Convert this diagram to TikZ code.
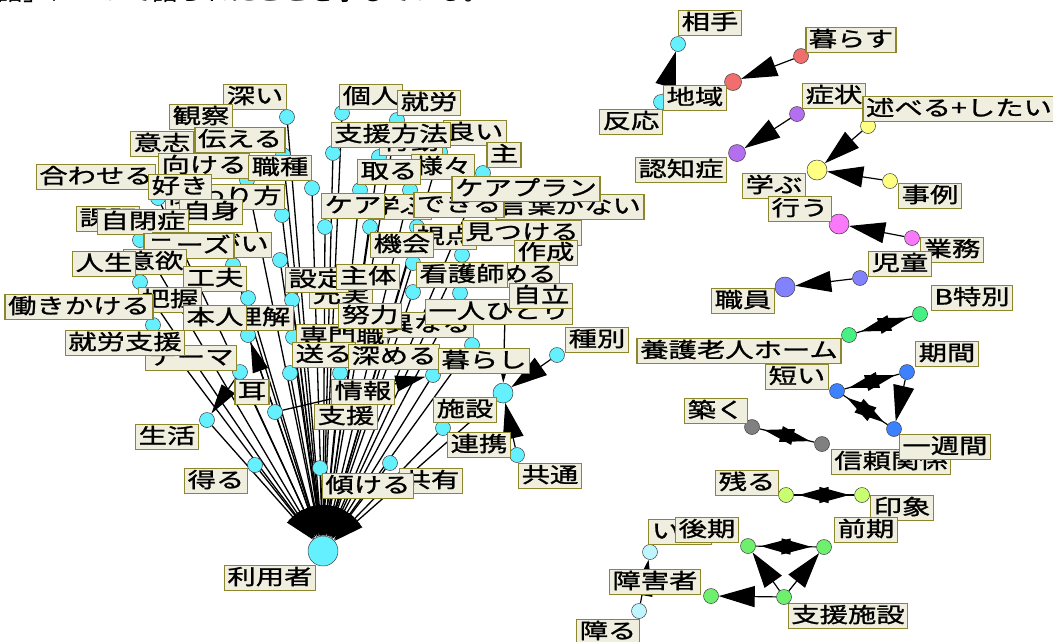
\documentclass[tikz,border=0pt]{standalone}
\usepackage{fontspec}
\newfontfamily\jp[FakeStretch=1.35,FakeBold=1.2]{Noto Sans CJK JP}
\newfontfamily\jpbody{Noto Sans CJK JP}
\usetikzlibrary{arrows.meta,decorations.markings}
\pgfdeclarelayer{edges}
\pgfsetlayers{edges,main}

\definecolor{cCyan}{RGB}{100,240,255}
\definecolor{cSalmon}{RGB}{240,110,110}
\definecolor{cPurple}{RGB}{180,110,240}
\definecolor{cYellow}{RGB}{255,255,130}
\definecolor{cPink}{RGB}{250,120,250}
\definecolor{cViolet}{RGB}{130,130,255}
\definecolor{cGreen}{RGB}{70,240,130}
\definecolor{cBlue}{RGB}{60,130,255}
\definecolor{cGray}{RGB}{128,128,128}
\definecolor{cLime}{RGB}{200,255,110}
\definecolor{cLeaf}{RGB}{110,240,110}
\definecolor{cPale}{RGB}{190,245,255}
\definecolor{lblFill}{RGB}{240,238,222}
\definecolor{lblLine}{RGB}{140,135,45}

\tikzset{
  lbl/.style={draw=lblLine, fill=lblFill, line width=1.5pt, inner xsep=3pt, inner ysep=2pt,
    font=\jp\fontsize{21}{21}\selectfont, text height=17pt, text depth=4pt},
  dot/.style={circle, draw=black!75, line width=0.5pt, inner sep=0pt, minimum size=15pt},
  bigdot/.style={dot, minimum size=20pt},
  carr/.style={line width=1.3pt, -{Triangle[length=30pt,width=16pt]}},
  arr/.style={line width=1.2pt, -{Triangle[length=36pt,width=21pt]}},
  spin/.style={line width=1.2pt, postaction={decorate},
    decoration={markings,
      mark=at position 0.92 with {\arrow{Triangle[length=30pt,width=16pt]}},
      mark=at position 0.08 with {\arrowreversed{Triangle[length=30pt,width=16pt]}}}}
}

\begin{document}
\begin{tikzpicture}[x=1pt,y=-1pt]
\useasboundingbox (0,0) rectangle (1053,641);

% running text of the page, cut by the top edge
\begin{scope}
  \clip (0,0) rectangle (1053,641);
  \node[anchor=base west, inner sep=0pt, font=\jpbody\fontsize{26}{26}\selectfont] (head) at (-3,0)
    {語」について語られたことを示している。};
\end{scope}

% ---------- left cluster: words pointing to the central word ----------
\node[dot, fill=cCyan, minimum size=30pt] (user) at (323,551) {};
\foreach \x/\y [count=\i] in {287/117,342/113,397/120,283/155,333/153,379/157,440/152,483/173,
  247/180,312/188,360/190,410/190,158/198,282/215,325/227,370/227,417/227,140/240,280/260,
  233/265,140/282,248/298,292/300,413/292,460/293,462/255,413/263,153/325,248/335,293/337,
  472/345,240/372,290/373,340/373,433/375,275/412,207/420,443/428,255/465,320/468,390/463,505/316}
  \node[dot, fill=cCyan] (c\i) at (\x,\y) {};
\node[bigdot, fill=cCyan] (kurashi) at (503,393) {};
\node[dot, fill=cCyan] (shubetsu) at (557,355) {};
\node[dot, fill=cCyan] (kyoutsu) at (517,455) {};

% ---------- right groups ----------
\node[dot, fill=cCyan] (aite) at (678,44) {};
\node[dot, fill=cCyan] (hannou) at (661,102) {};
\node[dot, fill=cSalmon] (kurasu) at (801,56) {};
\node[dot, fill=cSalmon, minimum size=17pt] (chiiki) at (733,82) {};
\node[dot, fill=cPurple] (shoujou) at (797,114) {};
\node[dot, fill=cPurple, minimum size=17pt] (ninchi) at (737,153) {};
\node[dot, fill=cYellow] (noberu) at (868,126) {};
\node[bigdot, fill=cYellow] (manabu) at (817,170) {};
\node[dot, fill=cYellow] (jirei) at (890,181) {};
\node[bigdot, fill=cPink] (okonau) at (839,224) {};
\node[dot, fill=cPink] (gyoumu) at (912,238) {};
\node[dot, fill=cViolet] (jidou) at (860,278) {};
\node[bigdot, fill=cViolet] (shokuin) at (785,287) {};
\node[dot, fill=cGreen] (btoku) at (920,314) {};
\node[dot, fill=cGreen] (yougo) at (849,335) {};
\node[dot, fill=cBlue] (kikan) at (907,372) {};
\node[dot, fill=cBlue] (mijikai) at (837,391) {};
\node[dot, fill=cBlue] (isshuu) at (894,429) {};
\node[dot, fill=cGray] (kizuku) at (752,427) {};
\node[dot, fill=cGray] (shinrai) at (822,444) {};
\node[dot, fill=cLime] (nokoru) at (786,495) {};
\node[dot, fill=cLime] (inshou) at (862,495) {};
\node[dot, fill=cLeaf] (kouki) at (748,546) {};
\node[dot, fill=cLeaf] (zenki) at (824,547) {};
\node[dot, fill=cLeaf] (shienshisetsu) at (784,597) {};
\node[dot, fill=cLeaf] (shougaisha) at (711,596) {};
\node[dot, fill=cPale] (iru) at (650,552) {};
\node[dot, fill=cPale] (sawaru) at (639,611) {};

% ---------- connectors ----------
\begin{pgfonlayer}{edges}
  \foreach \i in {1,...,41} \draw[carr] (c\i) -- (user);
  \draw[carr] (kurashi) -- (user);
  \draw[carr] (c42) -- (kurashi);
  \draw[carr] (c32) -- (c37);
  \draw[carr] (c36) -- (c35);
  \draw[carr] (c36) -- (c29);
  \draw[arr] (shubetsu) -- (kurashi);
  \draw[arr] (kyoutsu) -- (kurashi);
  \draw[arr] (hannou) -- (aite);
  \draw[arr] (kurasu) -- (chiiki);
  \draw[arr] (shoujou) -- (ninchi);
  \draw[arr] (noberu) -- (manabu);
  \draw[arr] (jirei) -- (manabu);
  \draw[arr] (gyoumu) -- (okonau);
  \draw[arr] (jidou) -- (shokuin);
  \draw[spin] (btoku) -- (yougo);
  \draw[spin] (kikan) -- (mijikai);
  \draw[spin] (mijikai) -- (isshuu);
  \draw[arr] (kikan) -- (isshuu);
  \draw[spin] (kizuku) -- (shinrai);
  \draw[spin] (nokoru) -- (inshou);
  \draw[spin] (kouki) -- (zenki);
  \draw[arr] (shienshisetsu) -- (kouki);
  \draw[arr] (shienshisetsu) -- (zenki);
  \draw[arr] (shienshisetsu) -- (shougaisha);
  \draw[arr] (sawaru) -- (iru);
\end{pgfonlayer}

% ---------- word labels ----------
\foreach \x/\y/\t [count=\i] in {
  255/97/深い, 201/117/観察, 162/144/意志, 240/140/伝える, 204/166/向ける, 280/168/職種,
  96/177/合わせる, 225/197/関わり方, 180/187/好き, 211/212/自身, 108/219/課題, 143/222/自閉症,
  212/245/生きがい, 189/246/ニーズ, 155/262/意欲, 104/264/人生, 215/279/工夫, 170/300/把握,
  79/307/働きかける, 262/318/理解, 215/318/本人, 191/358/テーマ, 125/343/就労支援, 252/392/耳,
  167/437/生活, 216/481/得る, 431/481/共有, 368/486/傾ける, 346/417/支援, 363/392/情報,
  342/337/専門職, 324/355/送る, 394/357/深める, 341/296/充実, 317/280/設定, 368/277/主体,
  428/325/異なる, 370/316/努力, 445/237/視点, 402/245/機会, 522/233/見つける, 546/253/作成,
  514/275/求める, 462/275/看護師, 499/312/一人ひとり, 541/296/自立, 484/361/暮らし, 597/340/種別,
  465/410/施設, 479/445/連携, 550/476/共通, 371/97/個人, 429/103/就労, 411/143/行動,
  475/133/良い, 391/135/支援方法, 504/155/主, 443/167/様々, 389/172/取る, 400/207/学ぶ,
  353/206/ケア, 570/207/言葉がない, 459/205/できる, 526/189/ケアプラン, 270/578/利用者}
  \node[lbl] (l\i) at (\x,\y) {\t};

\node[lbl] (l-aite) at (710,23) {相手};
\node[lbl] (l-kurasu) at (851,40) {暮らす};
\node[lbl] (l-hannou) at (631,122) {反応};
\node[lbl] (l-chiiki) at (695,98) {地域};
\node[lbl] (l-shoujou) at (834,96) {症状};
\node[lbl] (l-ninchi) at (681,170) {認知症};
\node[lbl] (l-noberu) at (959,109) {述べる+したい};
\node[lbl] (l-manabu) at (774,186) {学ぶ};
\node[lbl] (l-jirei) at (930,196) {事例};
\node[lbl] (l-okonau) at (800,209) {行う};
\node[lbl] (l-gyoumu) at (952,250) {業務};
\node[lbl] (l-jidou) at (900,264) {児童};
\node[lbl] (l-shokuin) at (743,301) {職員};
\node[lbl] (l-btoku) at (972,298) {B特別};
\node[lbl] (l-yougo) at (739,351) {養護老人ホーム};
\node[lbl] (l-kikan) at (947,354) {期間};
\node[lbl] (l-mijikai) at (797,377) {短い};
\node[lbl] (l-kizuku) at (716,411) {築く};
\node[lbl] (l-shinrai) at (891,462) {信頼関係};
\node[lbl] (l-isshuu) at (945,447) {一週間};
\node[lbl] (l-nokoru) at (747,483) {残る};
\node[lbl] (l-inshou) at (902,508) {印象};
\node[lbl] (l-iru) at (680,532) {いる};
\node[lbl] (l-kouki) at (707,530) {後期};
\node[lbl] (l-zenki) at (866,530) {前期};
\node[lbl] (l-shougaisha) at (655,582) {障害者};
\node[lbl] (l-shienshisetsu) at (848,616) {支援施設};
\node[lbl] (l-sawaru) at (608,632) {障る};
\end{tikzpicture}
\end{document}
